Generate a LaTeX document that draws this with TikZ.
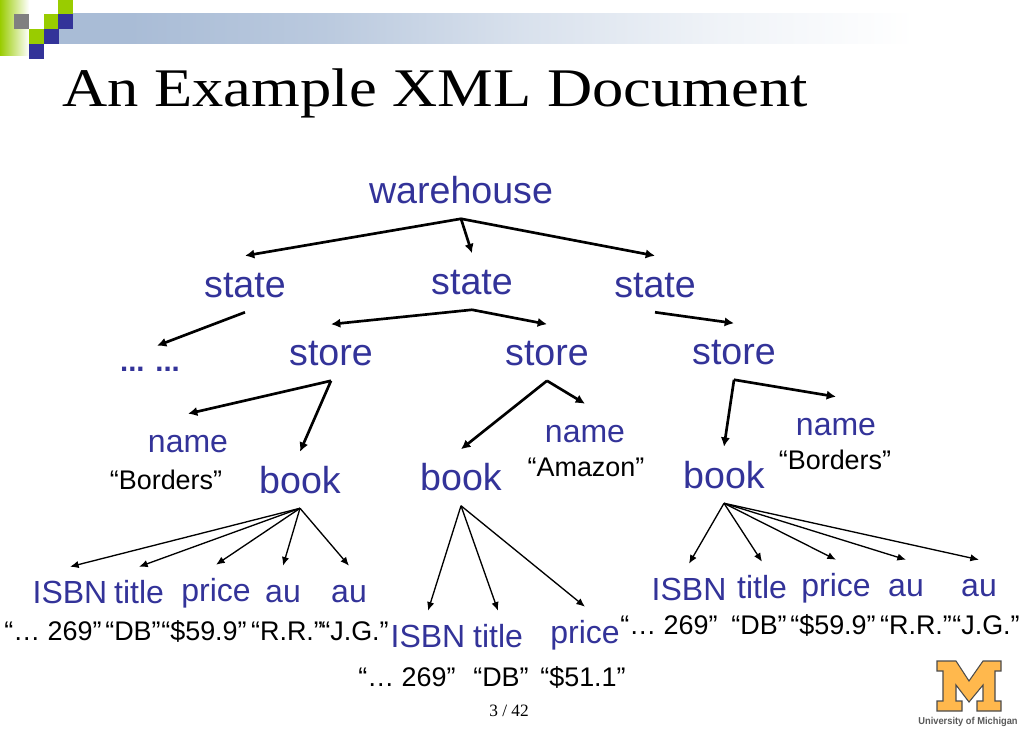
\documentclass[tikz,border=0pt]{standalone}
\usepackage{fontspec}
\usetikzlibrary{arrows.meta}
\setmainfont{Liberation Sans}
\newfontfamily\timesfont{Liberation Serif}
\definecolor{tagblue}{HTML}{333399}
\definecolor{boxgreen}{HTML}{99CC00}
\definecolor{bandblue}{HTML}{A9BCD6}
\definecolor{maize}{HTML}{FFB84D}
\pgfdeclarehorizontalshading{bandshade}{100bp}{color(0bp)=(bandblue); color(29bp)=(bandblue); color(40bp)=(bandblue!80); color(51bp)=(bandblue!45); color(62bp)=(bandblue!18); color(73bp)=(white); color(100bp)=(white)}
\begin{document}
\begin{tikzpicture}[x=0.75pt,y=-0.75pt,
  bigtag/.style={text=tagblue,font=\fontsize{28.2pt}{30pt}\selectfont,inner sep=0pt,text height=30.75pt,text depth=11.25pt},
  midtag/.style={text=tagblue,font=\fontsize{24pt}{28pt}\selectfont,inner sep=0pt,text height=28.5pt,text depth=10.5pt},
  smalltag/.style={text=tagblue,font=\fontsize{24pt}{28pt}\selectfont,inner sep=0pt,text height=27pt,text depth=9pt},
  val/.style={font=\fontsize{20.2pt}{24pt}\selectfont,inner sep=0pt,anchor=base},
  thick arrow/.style={-{Latex[length=7pt,width=7pt]},line width=2pt,black},
  thin arrow/.style={-{Latex[length=6.5pt,width=5.5pt]},line width=1pt,black}]
\useasboundingbox (0,0) rectangle (1023,731);

% the slide header
\shade[shading=bandshade] (58,14) rectangle (950,44);
\shade[left color=boxgreen,right color=white] (0,0) rectangle (29,56);
\foreach \x/\y/\col in {14/14/gray,29/29/boxgreen,29/44/tagblue,44/14/boxgreen,44/29/tagblue,58/0/boxgreen,58/14/tagblue}
\fill[\col] (\x,\y) rectangle ++(15,15);
\node[anchor=base west,inner sep=0pt,xscale=1.15,font=\timesfont\fontsize{40.8pt}{46pt}\selectfont,text=black] (title) at (62,106.5) {An Example XML Document};

% the tree
\foreach \name/\x/\y/\txt in {warehouse/461/190.5/warehouse,state1/245/284/state,state2/472/281.5/state,state3/655/284/state,store1/331/352.5/store,store2/547/352.5/store,store3/734/351.5/store,book1/300/480/book,book2/461/477.5/book,book3/724/475/book}
\node[bigtag] (\name) at (\x,\y) {\txt};

\foreach \name/\x/\y/\txt in {name1/188/440/name,name2/585/430/name,name3/836/423/name}
\node[midtag] (\name) at (\x,\y) {\txt};

\foreach \name/\x/\y/\txt in {isbn1/70/591/ISBN,title1/139/591/title,price1/216/589/price,au1/283/590/au,au2/349/590/au,isbn2/428/635/ISBN,title2/498/635/title,price2/585/631/price,isbn3/689/588/ISBN,title3/762/586/title,price3/836/584/price,au3/906/584/au,au4/979/584/au}
\node[smalltag] (\name) at (\x,\y) {\txt};

\node[val,font=\fontsize{22pt}{24pt}\selectfont\bfseries,text=tagblue,text height=18.75pt] (dots) at (150,371) {... ...};

\foreach \name/\x/\y/\txt in {val1/166/489/{“Borders”},val2/586/476/{“Amazon”},val3/835/469/{“Borders”},
  val4/53/640/{“… 269”},val5/133/640/{“DB”},val6/204/640/{“\$59.9”},val7/287/640/{“R.R.”},val8/355/640/{“J.G.”},
  val9/407/686/{“… 269”},val10/501/686/{“DB”},val11/583/686/{“\$51.1”},
  val12/669/634/{“… 269”},val13/759/634/{“DB”},val14/833/634/{“\$59.9”},val15/916/634/{“R.R.”},val16/986/634/{“J.G.”}}
\node[val] (\name) at (\x,\y) {\txt};

\foreach \a/\b in {warehouse/state1,warehouse/state2,warehouse/state3,state2/store1,state2/store2,state3/store3,store1/name1,store1/book1,store2/book2,store2/name2,store3/book3,store3/name3}
\draw[thick arrow] (\a.south) -- (\b.north);
\draw[thick arrow] (state1.south) -- ([xshift=5.25pt]dots.north);

\foreach \a/\b in {book1/isbn1,book1/title1,book1/price1,book1/au1,book1/au2,book2/isbn2,book2/title2,book2/price2,book3/isbn3,book3/title3,book3/price3,book3/au3,book3/au4}
\draw[thin arrow] (\a.south) -- (\b.north);

% the page number and the logo
\node[inner sep=0pt,font=\timesfont\fontsize{13pt}{15pt}\selectfont] (page) at (509,711) {3 / 42};
\filldraw[fill=maize,draw=black!70,line width=0.8pt] (937,661) -- (956,661) -- (969,681) -- (983,661) -- (1001,661) -- (1001,671) -- (995,671) -- (995,701) -- (1001,701) -- (1001,711) -- (977,711) -- (977,701) -- (983,701) -- (983,685) -- (969,702) -- (956,685) -- (956,701) -- (962,701) -- (962,711) -- (937,711) -- (937,701) -- (943,701) -- (943,671) -- (937,671) -- cycle;
\node[inner sep=0pt,xscale=0.93,font=\bfseries\fontsize{7.5pt}{9pt}\selectfont,text=black!65] (logo) at (968,722) {University of Michigan};
\end{tikzpicture}
\end{document}
